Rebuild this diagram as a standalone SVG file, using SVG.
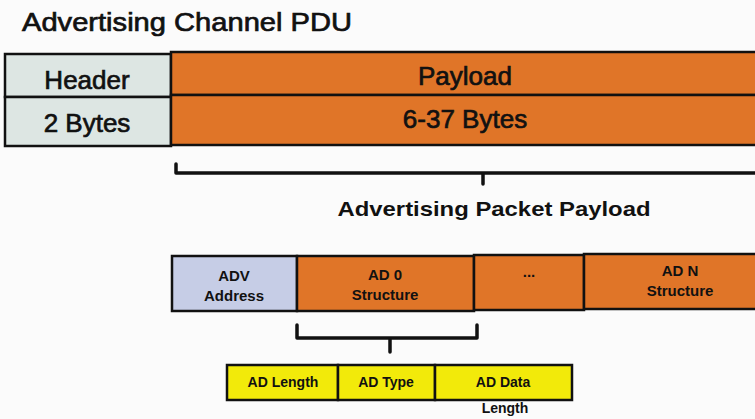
<svg xmlns="http://www.w3.org/2000/svg" width="755" height="419" viewBox="0 0 755 419">
<style>
.cell{stroke:#111;stroke-width:2.5}
.hdr{fill:#dde6e3}
.org{fill:#e07528}
.adv{fill:#c6cde6}
.yel{fill:#f2ea0a}
.brace{fill:none;stroke:#111;stroke-width:3.5;stroke-linejoin:round;stroke-linecap:round}
.big{font-family:"Liberation Sans",Arial,sans-serif;font-size:26px;fill:#111;stroke:#111;stroke-width:0.7}
.sub{font-family:"Liberation Sans",Arial,sans-serif;font-size:21px;font-weight:bold;fill:#111}
.sm{font-family:"Liberation Sans",Arial,sans-serif;font-size:15px;font-weight:bold;fill:#111}
.xs{font-family:"Liberation Sans",Arial,sans-serif;font-size:14px;font-weight:bold;fill:#111}
</style>
<rect width="755" height="419" fill="#fbfbfb"/>
<text class="big" x="22" y="31" textLength="330" lengthAdjust="spacingAndGlyphs">Advertising Channel PDU</text>
<g id="header">
<rect class="cell hdr" x="5" y="54" width="166" height="43"/>
<rect class="cell hdr" x="5" y="97" width="166" height="49"/>
<text class="big" x="87" y="89" text-anchor="middle">Header</text>
<text class="big" x="87" y="132" text-anchor="middle">2 Bytes</text>
</g>
<g id="payload">
<rect class="cell org" x="171" y="52" width="600" height="43"/>
<rect class="cell org" x="171" y="95" width="600" height="50"/>
<text class="big" x="465" y="85" text-anchor="middle">Payload</text>
<text class="big" x="465" y="128" text-anchor="middle">6-37 Bytes</text>
</g>
<g id="connectors">
<path class="brace" d="M176 164 V173 H760 M483 173 V184"/>
<path class="brace" d="M297 325 V338 H477 V325 M390 338 V352"/>
</g>
<text class="sub" x="494" y="216" text-anchor="middle" textLength="313" lengthAdjust="spacingAndGlyphs">Advertising Packet Payload</text>
<g id="adv-address">
<rect class="cell adv" x="172" y="256" width="125" height="55"/>
<text class="sm" x="234" y="281" text-anchor="middle">ADV</text>
<text class="sm" x="234" y="301" text-anchor="middle">Address</text>
</g>
<g id="ad0">
<rect class="cell org" x="297" y="256" width="177" height="55"/>
<text class="sm" x="385" y="280" text-anchor="middle">AD 0</text>
<text class="sm" x="385" y="300" text-anchor="middle">Structure</text>
</g>
<g id="dots">
<rect class="cell org" x="474" y="255" width="110" height="55"/>
<text class="sm" x="529" y="277" text-anchor="middle">...</text>
</g>
<g id="adn">
<rect class="cell org" x="584" y="254" width="190" height="55"/>
<text class="sm" x="680" y="276" text-anchor="middle">AD N</text>
<text class="sm" x="680" y="296" text-anchor="middle">Structure</text>
</g>
<g id="ad-length">
<rect class="cell yel" x="227" y="365" width="111" height="35"/>
<text class="xs" x="283" y="387" text-anchor="middle">AD Length</text>
</g>
<g id="ad-type">
<rect class="cell yel" x="338" y="365" width="97" height="35"/>
<text class="xs" x="386" y="387" text-anchor="middle">AD Type</text>
</g>
<g id="ad-data">
<rect class="cell yel" x="435" y="365" width="137" height="35"/>
<text class="xs" x="503" y="387" text-anchor="middle">AD Data</text>
</g>
<text class="xs" x="505" y="413" text-anchor="middle">Length</text>
</svg>
